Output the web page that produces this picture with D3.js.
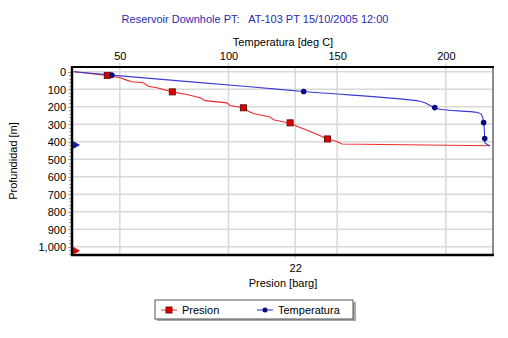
<!DOCTYPE html>
<html>
<head>
<meta charset="utf-8">
<script src="https://cdn.jsdelivr.net/npm/d3@7"></script>
<style>
  body { margin: 0; background: #fff; }
  svg { display: block; font-family: "Liberation Sans", Arial, sans-serif; font-size: 11px; }
</style>
</head>
<body>
<svg id="chart" width="508" height="338"></svg>
<script>
// Temperatura [deg C] vs depth
var tempValues  = [29, 46.3, 109.8, 134.6, 188, 194.9, 198, 214, 216.4, 217.4, 217.9, 218, 220.3];
var tempDepths  = [0, 19.5, 86, 113, 169, 205, 216, 232, 245, 291, 382, 405, 423];
var tempMarks   = [1, 3, 5, 9, 10]; // indexes that get a dot

// Presion [barg] vs depth
var presValues  = [0.2, 3.48, 4.74, 5.4, 5.89, 7.03, 7.53, 8.36, 9.89, 11.32, 12.63, 13.12, 15.26, 15.59, 16.9, 17.39, 17.89, 19.53, 19.86, 21.01, 21.5, 22.17, 23.48, 24.47, 25.19, 26.1, 26.6, 41.2];
var presDepths  = [0, 21, 34, 48, 57, 63, 83, 92, 115, 130, 149, 165, 178, 193, 206, 226, 239, 258, 274, 289, 292, 312, 341, 366, 384, 398, 413, 423];
var presMarks   = [1, 8, 14, 20, 24];

var depthTicks  = [0, 100, 200, 300, 400, 500, 600, 700, 800, 900, 1000];
var tempTicks   = [50, 100, 150, 200];
var presTicks   = [22];

var svg = d3.select("#chart");
var L = 72, R = 493, T = 67, B = 255;

var y = d3.scaleLinear().domain([-27, 1047]).range([T, B]);
var xT = d3.scaleLinear().domain([28, 221.7]).range([L, R]);
var xP = d3.scaleLinear().domain([0, 41.5]).range([L, R]);

// title
svg.append("text").attr("x", 255).attr("y", 23).attr("text-anchor", "middle")
  .style("white-space", "pre")
  .attr("fill", "#2b2bb0").text("Reservoir Downhole PT:   AT-103 PT 15/10/2005 12:00");

// grid
var grid = svg.append("g").attr("stroke", "#d9d9d9").attr("stroke-width", 1.5);
grid.selectAll(".h").data(depthTicks).enter().append("line")
  .attr("x1", L).attr("x2", R).attr("y1", function(d){ return y(d); }).attr("y2", function(d){ return y(d); });
grid.selectAll(".vt").data(tempTicks).enter().append("line")
  .attr("x1", function(d){ return xT(d); }).attr("x2", function(d){ return xT(d); })
  .attr("y1", T - 4).attr("y2", B);
grid.selectAll(".vp").data(presTicks).enter().append("line")
  .attr("x1", function(d){ return xP(d); }).attr("x2", function(d){ return xP(d); })
  .attr("y1", T).attr("y2", B + 4);

// left axis with minor ticks
var yAxis = d3.axisLeft(y).tickValues(depthTicks).tickSize(0).tickPadding(6)
  .tickFormat(d3.format(","));
var ya = svg.append("g").attr("transform", "translate(" + L + ",0)").call(yAxis);
ya.select(".domain").remove();
ya.selectAll("text").attr("fill", "#000").style("font-size", "11px").attr("dy", "0.35em");
svg.append("g").selectAll("line").data(d3.range(0, 1041, 20)).enter().append("line")
  .attr("x1", function(d){ return d % 100 === 0 ? L - 4 : L - 3; }).attr("x2", L)
  .attr("y1", function(d){ return Math.round(y(d)) + 0.5; })
  .attr("y2", function(d){ return Math.round(y(d)) + 0.5; })
  .attr("stroke", "#aaa");

// top axis (temperature)
var xa = svg.append("g").attr("transform", "translate(0," + T + ")")
  .call(d3.axisTop(xT).tickValues(tempTicks).tickSize(0).tickPadding(7));
xa.select(".domain").remove();
xa.selectAll("text").attr("fill", "#000").style("font-size", "11px");

// bottom axis (pressure)
var pa = svg.append("g").attr("transform", "translate(0," + B + ")")
  .call(d3.axisBottom(xP).tickValues(presTicks).tickSize(0).tickPadding(9));
pa.select(".domain").remove();
pa.selectAll("text").attr("fill", "#000").style("font-size", "11px");

// axis titles
svg.append("text").attr("x", 283).attr("y", 46).attr("text-anchor", "middle").text("Temperatura [deg C]");
svg.append("text").attr("x", 283).attr("y", 287).attr("text-anchor", "middle").text("Presion [barg]");
svg.append("text").attr("transform", "translate(17,161) rotate(-90)").attr("text-anchor", "middle").text("Profundidad [m]");

// frame
svg.append("line").attr("x1", R).attr("x2", R).attr("y1", T).attr("y2", B).attr("stroke", "#8c8c8c").attr("stroke-width", 2);
svg.append("line").attr("x1", L - 1).attr("x2", R + 1).attr("y1", T).attr("y2", T).attr("stroke", "#000").attr("stroke-width", 2);
svg.append("line").attr("x1", L - 1).attr("x2", R + 1).attr("y1", B).attr("y2", B).attr("stroke", "#000").attr("stroke-width", 2.5);
svg.append("line").attr("x1", L).attr("x2", L).attr("y1", T - 1).attr("y2", B + 1).attr("stroke", "#000").attr("stroke-width", 2.5);

// lines
var tempLine = d3.line().x(function(d){ return xT(d[0]); }).y(function(d){ return y(d[1]); }).curve(d3.curveMonotoneY);
var presLine = d3.line().x(function(d){ return xP(d[0]); }).y(function(d){ return y(d[1]); });
var tData = d3.zip(tempValues, tempDepths);
var pData = d3.zip(presValues, presDepths);

svg.append("path").datum(pData).attr("d", presLine).attr("fill", "none").attr("stroke", "#ee2a2a").attr("stroke-width", 1.1);
svg.append("path").datum(tData).attr("d", tempLine).attr("fill", "none").attr("stroke", "#3a3ad6").attr("stroke-width", 1.1);

svg.append("g").selectAll("rect").data(presMarks).enter().append("rect")
  .attr("x", function(i){ return xP(presValues[i]) - 3; })
  .attr("y", function(i){ return y(presDepths[i]) - 3; })
  .attr("width", 6).attr("height", 6)
  .attr("fill", "#dd0000").attr("stroke", "#6e1010").attr("stroke-width", 1);
svg.append("g").selectAll("circle").data(tempMarks).enter().append("circle")
  .attr("cx", function(i){ return xT(tempValues[i]); })
  .attr("cy", function(i){ return y(tempDepths[i]); })
  .attr("r", 2.8).attr("fill", "#0a0a80");

// depth limit arrows on left axis
var arrows = [{d: 418, c: "#1a1aa0"}, {d: 1023, c: "#e00000"}];
svg.append("g").selectAll("path").data(arrows).enter().append("path")
  .attr("d", function(a){ var yy = y(a.d); return "M" + (L + 1) + "," + (yy - 4) + "L" + (L + 8) + "," + yy + "L" + (L + 1) + "," + (yy + 4) + "Z"; })
  .attr("fill", function(a){ return a.c; });

// legend
var lg = svg.append("g").attr("transform", "translate(155,300)");
lg.append("rect").attr("x", 2).attr("y", 2).attr("width", 199).attr("height", 19).attr("fill", "#a8a8a8");
lg.append("rect").attr("x", 0).attr("y", 0).attr("width", 198).attr("height", 19).attr("fill", "#fff").attr("stroke", "#555").attr("stroke-width", 1);
lg.append("line").attr("x1", 6).attr("x2", 22).attr("y1", 10).attr("y2", 10).attr("stroke", "#ee7070").attr("stroke-width", 1.5);
lg.append("rect").attr("x", 11).attr("y", 7).attr("width", 6).attr("height", 6).attr("fill", "#dd0000").attr("stroke", "#6e1010");
lg.append("text").attr("x", 27).attr("y", 14).text("Presion");
lg.append("line").attr("x1", 102).attr("x2", 118).attr("y1", 10).attr("y2", 10).attr("stroke", "#7070d8").attr("stroke-width", 1.5);
lg.append("circle").attr("cx", 110).attr("cy", 10).attr("r", 2.5).attr("fill", "#0a0a80");
lg.append("text").attr("x", 123).attr("y", 14).text("Temperatura");
</script>
</body>
</html>
